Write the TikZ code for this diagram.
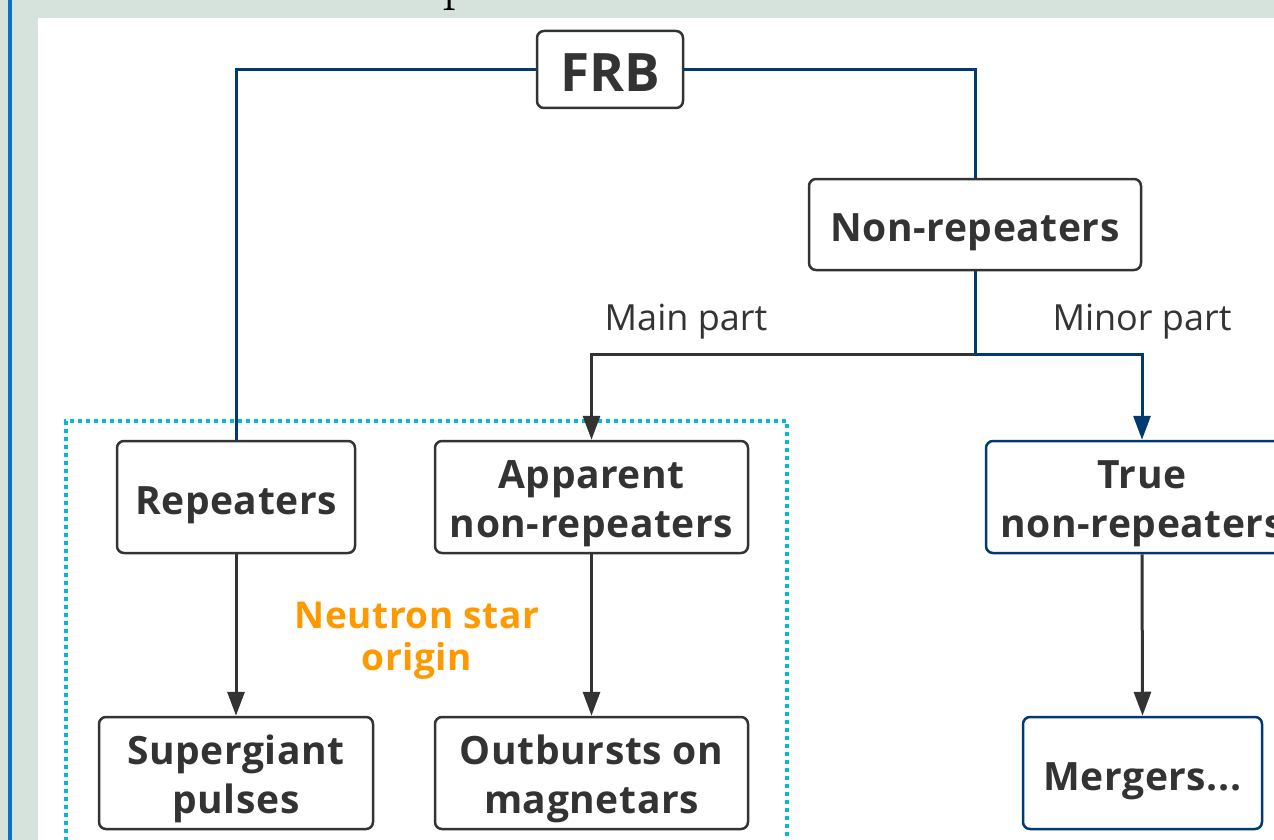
\documentclass[tikz,border=0pt]{standalone}
\usepackage{fontspec}
\setmainfont{Open Sans}
\newfontfamily\boxfont[LetterSpace=1.5]{Open Sans}
\newfontfamily\serifp{Latin Modern Roman}
\usetikzlibrary{arrows.meta}
\definecolor{bgc}{RGB}{214,227,221}
\definecolor{stripe}{RGB}{10,114,196}
\definecolor{navy}{RGB}{0,58,112}
\definecolor{ink}{RGB}{51,51,51}
\definecolor{dotc}{RGB}{0,188,216}
\definecolor{orng}{RGB}{255,153,0}
\newcommand{\myTopStrut}{\rule{0pt}{43pt}}
\newcommand{\myBotStrut}{\rule[-12pt]{0pt}{12pt}}
\tikzset{
  box/.style={draw=ink, line width=2.5pt, rounded corners=7pt, fill=white,
    align=center, text=ink, inner sep=0pt,
    font=\boxfont\fontsize{39}{49}\selectfont\bfseries},
  onel/.style={text height=34pt, text depth=0pt},
  navybox/.style={box, draw=navy},
  navyline/.style={draw=navy, line width=3pt},
  inkline/.style={draw=ink, line width=3pt},
  tip/.style={-{Triangle[length=24pt,width=17pt]}},
  lbl/.style={text=ink, font=\fontsize{36}{40}\selectfont, inner sep=0pt}
}
\begin{document}
\begin{tikzpicture}[x=1pt,y=-1pt]
\useasboundingbox (0,0) rectangle (1274,840);
\clip (0,0) rectangle (1274,840);
% background
\fill[bgc] (0,0) rectangle (1274,840);
\fill[stripe] (8,0) rectangle (12,840);
\fill[white] (38,18) rectangle (1274,840);
\node[anchor=base, inner sep=0pt, text=black, font=\serifp\fontsize{57}{60}\selectfont] (ptxt) at (457,0) {p};
% dotted region
\draw[dotc, line width=4pt, dash pattern=on 4pt off 4pt] (787,860) -- (787,421) -- (66,421) -- (66,860);
% nodes
\node[box, minimum width=146pt, minimum height=77pt, text height=45pt, text depth=0pt,
      font=\fontsize{53}{56}\selectfont\bfseries] (frb) at (610,69.5) {FRB};
\node[box, onel, minimum width=332pt, minimum height=91pt] (nonrep) at (975,224.5) {Non-repeaters};
\node[box, onel, minimum width=238pt, minimum height=112pt] (rep) at (236,497) {Repeaters};
\node[box, minimum width=313pt, minimum height=112pt] (app) at (591.5,497) {\myTopStrut Apparent\\non-repeaters\myBotStrut};
\node[navybox, minimum width=312pt, minimum height=112pt] (truen) at (1142,497) {\myTopStrut True\\non-repeaters\myBotStrut};
\node[box, minimum width=274pt, minimum height=112pt] (super) at (236,773) {\myTopStrut Supergiant\\pulses\myBotStrut};
\node[box, minimum width=313pt, minimum height=112pt] (outb) at (591.5,773) {\myTopStrut Outbursts on\\magnetars\myBotStrut};
\node[navybox, onel, minimum width=239pt, minimum height=112pt] (merg) at (1142.5,773) {Mergers...};
\node[align=center, text=orng, inner sep=0pt, font=\boxfont\fontsize{37}{42}\selectfont\bfseries] (ns) at (417,641) {Neutron star\\origin};
% labels
\node[lbl] (mainp) at (686,322) {Main part};
\node[lbl] (minorp) at (1142,322) {Minor part};
% connectors
\coordinate (split) at (975,354);
\draw[navyline] (frb.west) -| (rep.north);
\draw[navyline] (frb.east) -| (nonrep.north);
\draw[inkline, tip] (split) -| (app.north);
\draw[navyline] (nonrep.south) -- (split);
\draw[navyline, tip] (split) -| (truen.north);
\draw[inkline, tip] (rep.south) -- (super.north);
\draw[inkline, tip] (app.south) -- (outb.north);
\draw[inkline, tip] (truen.south) -- (merg.north);
\end{tikzpicture}
\end{document}
